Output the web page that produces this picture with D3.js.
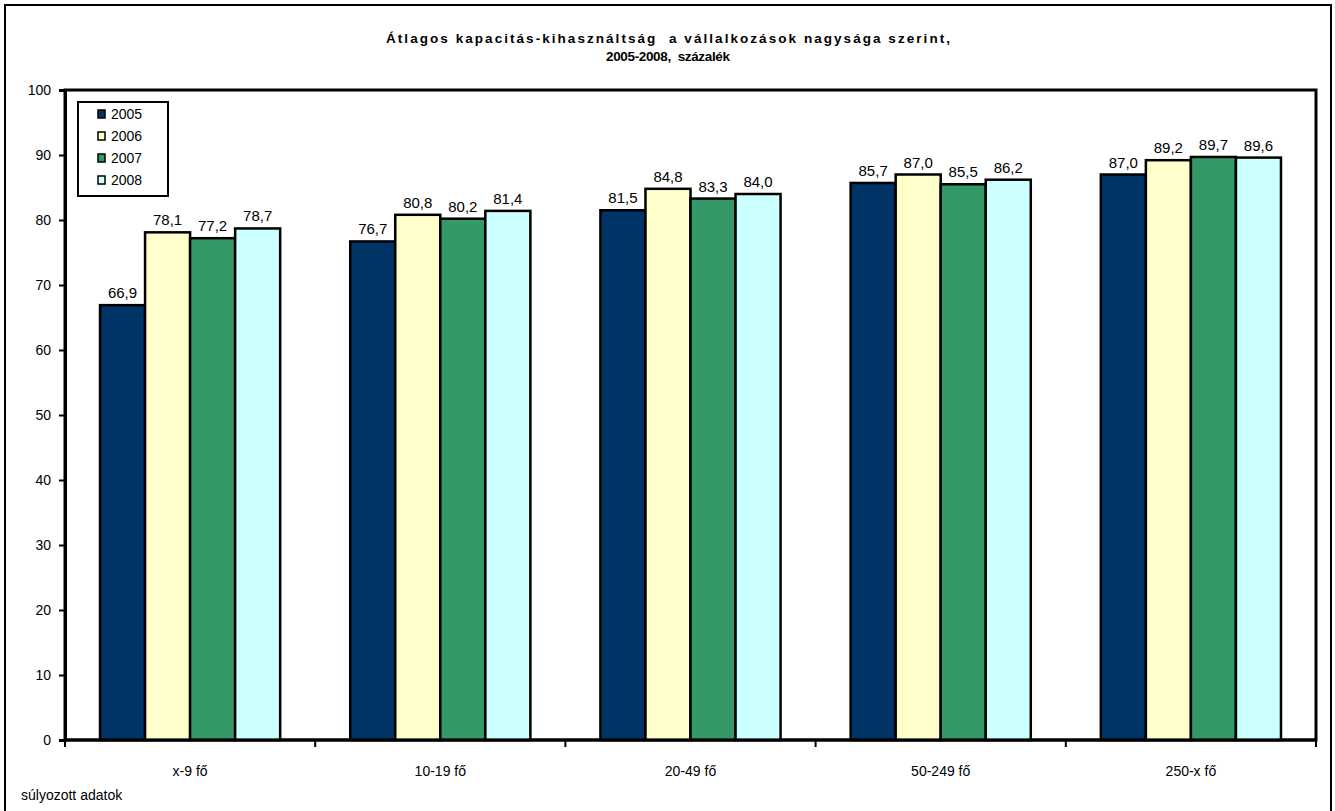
<!DOCTYPE html>
<html><head><meta charset="utf-8">
<script src="https://cdn.jsdelivr.net/npm/d3@7"></script>
<style>body{margin:0;background:#fff}svg{display:block;font-family:"Liberation Sans",Arial,sans-serif}</style>
</head><body><svg id="c" width="1335" height="811"></svg>
<script>
const categories = ["x-9 fő", "10-19 fő", "20-49 fő", "50-249 fő", "250-x fő"];
const seriesNames = ["2005", "2006", "2007", "2008"];
const v2005 = [66.9, 76.7, 81.5, 85.7, 87.0];
const v2006 = [78.1, 80.8, 84.8, 87.0, 89.2];
const v2007 = [77.2, 80.2, 83.3, 85.5, 89.7];
const v2008 = [78.7, 81.4, 84.0, 86.2, 89.6];
const yTicks = [0, 10, 20, 30, 40, 50, 60, 70, 80, 90, 100];
const colors = ["#003366", "#FFFFCC", "#339966", "#CCFFFF"];
const series = [v2005, v2006, v2007, v2008];

const svg = d3.select("#c");
const L = 65, R = 1316, T = 90, B = 740;

svg.append("rect").attr("x", 5).attr("y", 5).attr("width", 1326).attr("height", 812)
  .attr("fill", "#fff").attr("stroke", "#000").attr("stroke-width", 2);

svg.append("text").attr("x", 668).attr("y", 43).attr("text-anchor", "middle")
  .attr("font-size", 13.5).attr("font-weight", "bold").style("white-space", "pre")
  .attr("textLength", 564).attr("lengthAdjust", "spacing")
  .text("Átlagos kapacitás-kihasználtság  a vállalkozások nagysága szerint,");
svg.append("text").attr("x", 668).attr("y", 61).attr("text-anchor", "middle")
  .attr("font-size", 13.5).attr("font-weight", "bold").style("white-space", "pre")
  .attr("textLength", 124).attr("lengthAdjust", "spacing")
  .text("2005-2008,  százalék");

const x0 = d3.scaleBand().domain(categories).range([L, R]).paddingInner(0.28).paddingOuter(0.14);
const x1 = d3.scaleBand().domain(seriesNames).range([0, x0.bandwidth()]);
const y = d3.scaleLinear().domain([0, 100]).range([B, T]);

// plot frame
svg.append("rect").attr("x", L).attr("y", T).attr("width", R - L).attr("height", B - T)
  .attr("fill", "none").attr("stroke", "#000").attr("stroke-width", 3);

const g = svg.append("g");
categories.forEach((c, i) => {
  seriesNames.forEach((s, j) => {
    const v = series[j][i];
    g.append("rect").attr("x", x0(c) + x1(s)).attr("y", y(v))
      .attr("width", x1.bandwidth()).attr("height", y(0) - y(v))
      .attr("fill", colors[j]).attr("stroke", "#000").attr("stroke-width", 2.5);
    g.append("text").attr("x", x0(c) + x1(s) + x1.bandwidth() / 2).attr("y", y(v) - 7)
      .attr("text-anchor", "middle").attr("font-size", 15).text(d3.format(".1f")(v).replace(".", ","));
  });
});

// y axis
const ya = svg.append("g").attr("transform", `translate(${L},0)`)
  .call(d3.axisLeft(y).tickValues(yTicks).tickSize(6).tickPadding(8));
ya.select(".domain").attr("stroke-width", 3);
ya.selectAll(".tick line").attr("stroke-width", 2);
ya.selectAll("text").attr("font-size", 14).attr("font-family", "Liberation Sans, Arial, sans-serif");

// x axis
const xa = svg.append("g").attr("transform", `translate(0,${B})`);
xa.append("line").attr("x1", L).attr("x2", R).attr("stroke", "#000").attr("stroke-width", 3);
const step = (R - L) / categories.length;
d3.range(categories.length + 1).forEach(k => {
  xa.append("line").attr("x1", L + k * step).attr("x2", L + k * step).attr("y1", 0).attr("y2", 7)
    .attr("stroke", "#000").attr("stroke-width", 2);
});
categories.forEach(c => {
  xa.append("text").attr("x", x0(c) + x0.bandwidth() / 2).attr("y", 36).attr("text-anchor", "middle")
    .attr("font-size", 14).text(c);
});

svg.append("text").attr("x", 21).attr("y", 800).attr("font-size", 14).text("súlyozott adatok");

// legend
const lg = svg.append("g");
lg.append("rect").attr("x", 78).attr("y", 102).attr("width", 90).attr("height", 94)
  .attr("fill", "#fff").attr("stroke", "#000").attr("stroke-width", 2);
seriesNames.forEach((s, j) => {
  const yy = 116 + j * 22;
  lg.append("rect").attr("x", 98).attr("y", yy - 6).attr("width", 7).attr("height", 8)
    .attr("fill", colors[j]).attr("stroke", "#000").attr("stroke-width", 1.5);
  lg.append("text").attr("x", 111).attr("y", yy + 3).attr("font-size", 14).text(s);
});
</script></body></html>
